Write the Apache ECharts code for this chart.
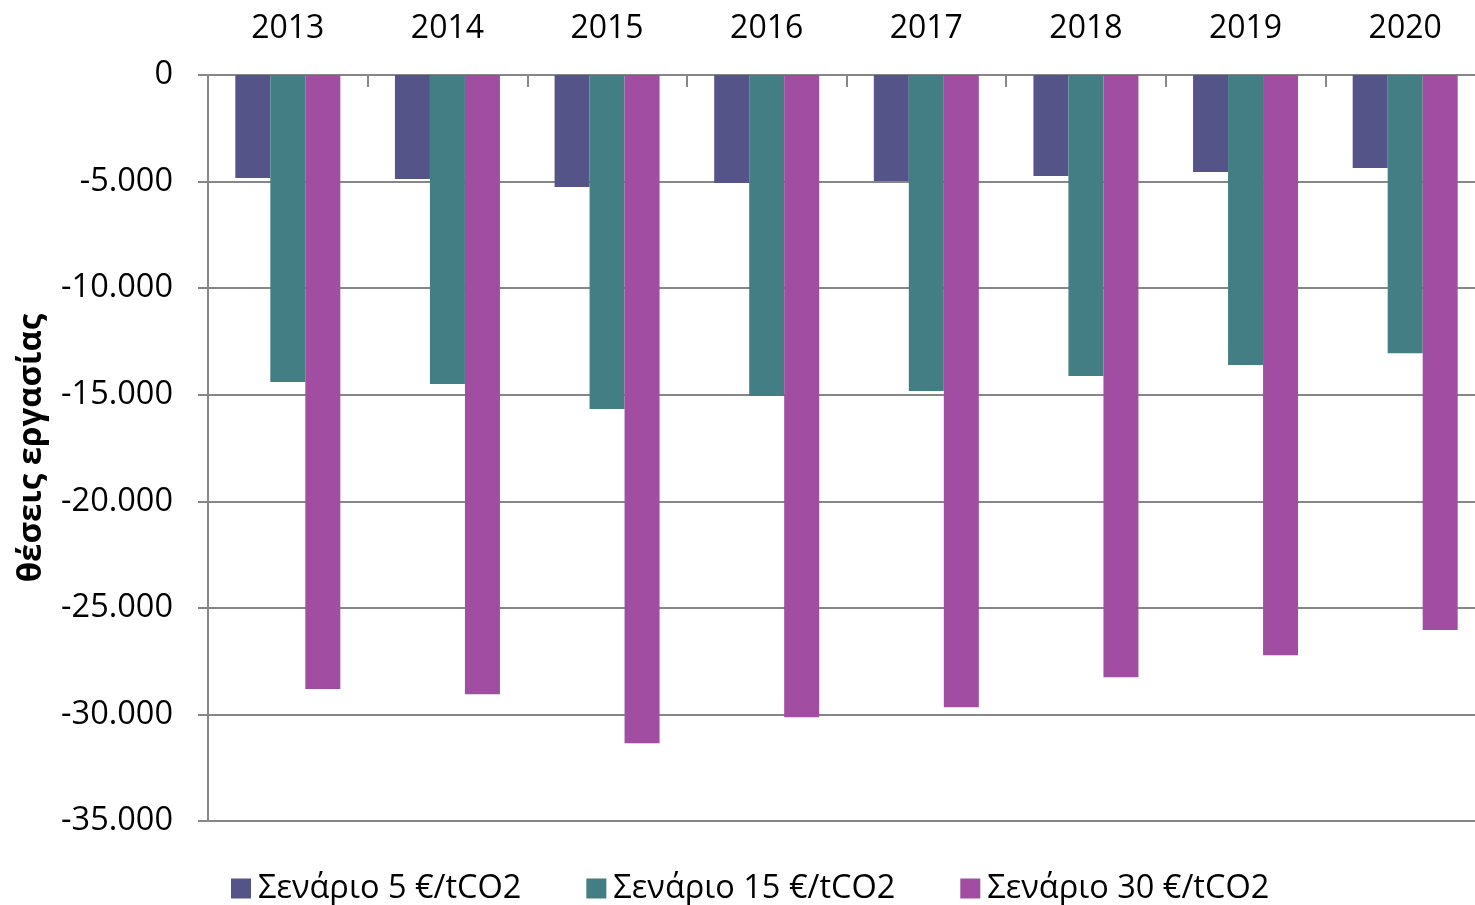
<!DOCTYPE html>
<html>
<head>
<meta charset="utf-8">
<script src="https://cdn.jsdelivr.net/npm/echarts@6/dist/echarts.min.js"></script>
<style>
  html, body { margin: 0; padding: 0; background: #fff; }
  #chart { width: 1475px; height: 905px; }
</style>
</head>
<body>
<div id="chart"></div>
<script>
// έτη
const years = ['2013', '2014', '2015', '2016', '2017', '2018', '2019', '2020']
// σενάρια
const seriesNames = ['Σενάριο 5 €/tCO2', 'Σενάριο 15 €/tCO2', 'Σενάριο 30 €/tCO2']
const scenario5 = [-4830, -4880, -5260, -5070, -4970, -4740, -4550, -4360]
const scenario15 = [-14400, -14500, -15670, -15060, -14830, -14120, -13610, -13050]
const scenario30 = [-28810, -29050, -31350, -30130, -29660, -28250, -27220, -26040]
const colors = ['#545489', '#427e83', '#a04da2']

const font = '"Open Sans", "Noto Sans", sans-serif'
const gray = '#868686'

// 1.000 style formatting
function fmt(v) {
  const s = Math.abs(v).toString().replace(/\B(?=(\d{3})+(?!\d))/g, '.')
  return (v < 0 ? '-' : '') + s
}

const chart = echarts.init(document.getElementById('chart'))
chart.setOption({
  animation: false,
  color: colors,
  textStyle: { fontFamily: font },
  // plot runs a bit past the right edge, like the original
  grid: { left: 208, top: 75, width: 1277, bottom: 84, containLabel: false, outerBoundsMode: 'none' },
  legend: {
    left: 226,
    top: 867,
    icon: 'rect',
    itemWidth: 20,
    itemHeight: 20,
    itemGap: 65,
    textStyle: { fontSize: 32.5, color: '#000', fontFamily: font, padding: [0, 0, 0, 2] },
    data: seriesNames
  },
  xAxis: {
    type: 'category',
    position: 'top',
    data: years,
    axisLine: { show: true, onZero: false, lineStyle: { color: gray, width: 2 } },
    axisTick: { show: true, inside: true, length: 12, lineStyle: { color: gray, width: 2 } },
    axisLabel: { color: '#000', fontSize: 32, margin: 30, fontFamily: font }
  },
  yAxis: {
    type: 'value',
    min: -35000,
    max: 0,
    interval: 5000,
    name: 'θέσεις εργασίας',
    nameLocation: 'middle',
    nameGap: 160,
    nameRotate: 90,
    nameTextStyle: { fontSize: 33, fontWeight: 'bold', color: '#000', fontFamily: font },
    axisLine: { show: true, lineStyle: { color: gray, width: 2 } },
    axisTick: { show: true, length: 10, lineStyle: { color: gray, width: 2 } },
    axisLabel: { color: '#000', fontSize: 32.5, margin: 35, fontFamily: font, formatter: fmt },
    splitLine: { show: true, lineStyle: { color: gray, width: 2 } }
  },
  series: [
    { name: seriesNames[0], type: 'bar', data: scenario5, barWidth: 35, barGap: '0%' },
    { name: seriesNames[1], type: 'bar', data: scenario15, barWidth: 35, barGap: '0%' },
    { name: seriesNames[2], type: 'bar', data: scenario30, barWidth: 35, barGap: '0%' }
  ]
})
</script>
</body>
</html>
